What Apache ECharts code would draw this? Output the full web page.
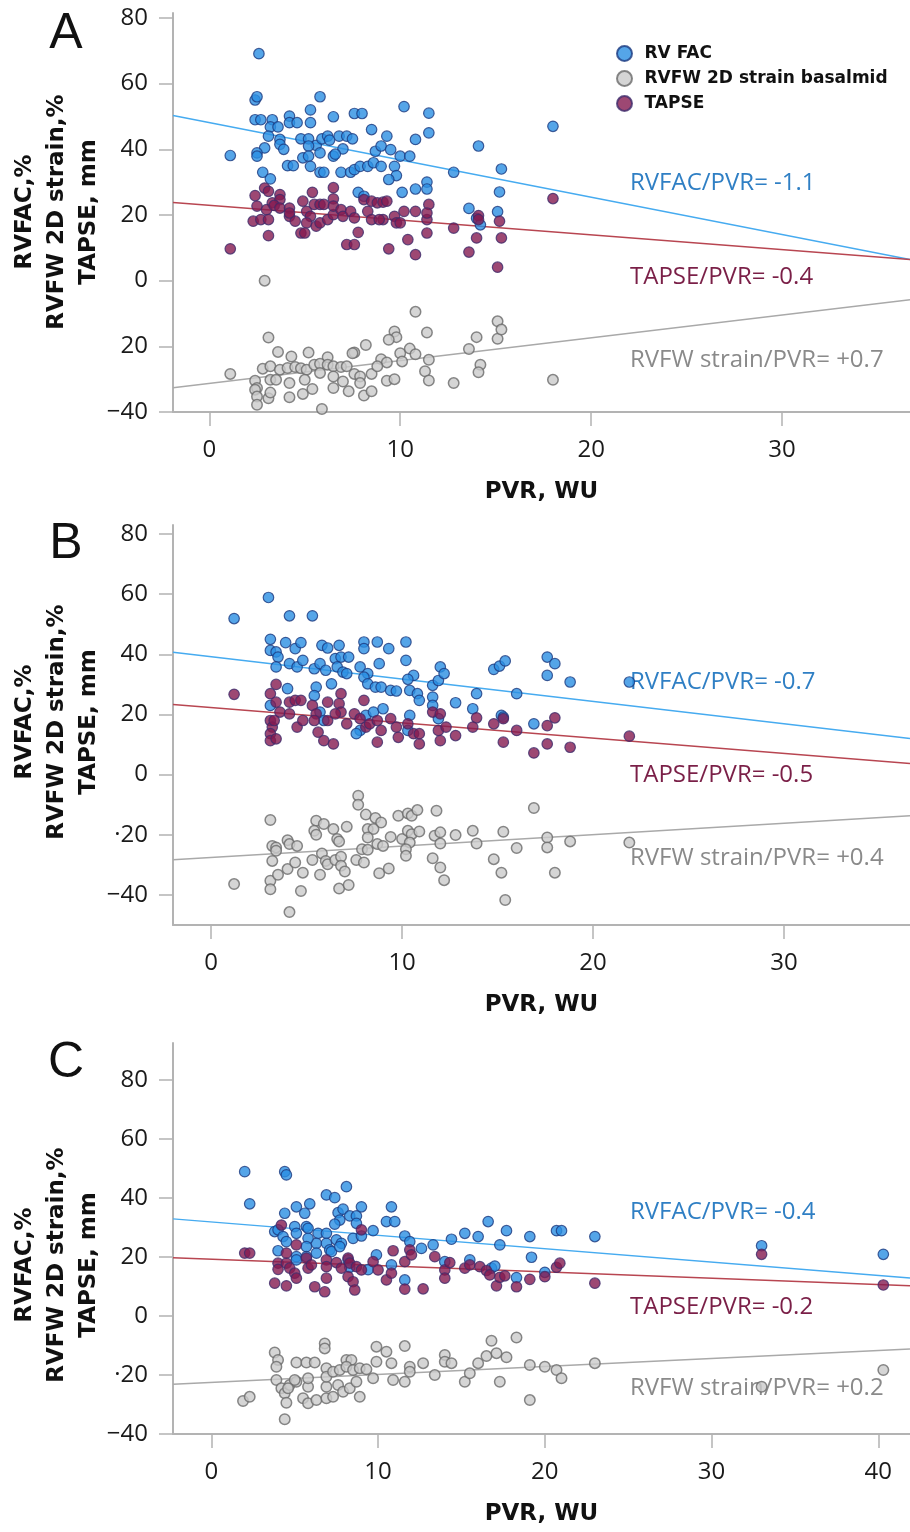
<!DOCTYPE html>
<html>
<head>
<meta charset="utf-8">
<title>RV function vs PVR</title>
<script src="https://cdn.jsdelivr.net/npm/echarts@6/dist/echarts.min.js"></script>
<style>
  html, body { margin: 0; padding: 0; background: #fff; }
  #chart { width: 910px; height: 1532px; }
</style>
</head>
<body>
<div id="chart"></div>
<script>
// ---- data: [PVR (WU), value] ----
const facA = [[2.6,69.1],[2.4,55],[2.5,56],[5.8,56],[2.4,49],[2.7,49],[3.3,49],[5.3,52],[5.3,48.1],[4.2,50.1],[4.2,48.1],[4.6,48.1],[6.5,49.9],[7.6,50.9],[8.0,50.9],[10.2,53],[11.5,51],[11.5,45],[10.8,43],[8.5,46],[9.3,44],[3.2,46.8],[3.6,46.8],[3.1,44],[3.7,43],[2.9,40.4],[2.5,38.9],[2.5,37.9],[1.1,38.1],[3.7,41.5],[3.9,40],[4.8,43.2],[5.2,43.2],[5.6,41.2],[5.2,41],[5.9,43.2],[6.2,44],[6.3,42.8],[6.8,44],[7.2,44],[7.5,43.2],[7.0,40.1],[6.5,37.9],[6.6,38.5],[5.8,38.9],[4.9,37.4],[5.2,37.9],[5.3,34.8],[4.1,35],[4.4,35],[5.8,33],[6.0,33],[2.8,33],[3.2,31],[6.9,33],[7.4,33],[7.6,33.8],[7.9,34.8],[8.3,34.8],[8.6,35.9],[9.0,34.8],[8.7,39.4],[9.0,41],[9.5,39.9],[10.0,37.9],[10.5,37.9],[9.7,34.8],[9.8,32],[9.4,30.8],[10.1,26.9],[10.8,27.9],[11.4,30],[11.4,27.9],[7.8,26.9],[8.1,25.7],[12.8,33],[18.0,47],[14.1,41],[15.3,34],[15.2,27],[13.6,22],[14.0,19],[14.2,17],[15.1,21]];
const tapseA = [[1.1,9.7],[2.4,25.9],[2.9,28.2],[3.1,27.2],[3.7,26.2],[3.3,23.7],[3.7,24.7],[2.5,22.7],[3.0,21.6],[3.4,22.9],[3.7,22.1],[2.3,18.1],[2.7,18.6],[3.1,18.6],[3.1,13.7],[4.2,22.1],[4.2,19.6],[4.5,18.1],[4.2,20.6],[4.9,24.2],[5.4,26.9],[5.1,21.1],[5.5,23.2],[5.8,23.2],[6.0,23.2],[5.3,19.6],[5.1,17.6],[5.6,16.6],[5.8,17.6],[6.2,18.6],[6.5,20.1],[6.5,28.3],[6.5,24.9],[6.5,22.7],[4.8,14.5],[5.0,14.5],[6.9,21.6],[7.0,19.6],[7.4,21.1],[7.6,19.1],[7.8,14.7],[7.2,11],[7.6,11],[8.1,24.7],[8.3,21.1],[8.5,24.2],[8.8,23.7],[9.1,23.9],[9.3,24.2],[9.1,18.6],[8.5,18.6],[8.9,18.6],[9.7,19.6],[9.8,17.6],[10.0,17.6],[10.2,21.1],[9.4,9.7],[10.4,12.5],[10.8,7.9],[10.8,21.1],[11.4,14.5],[11.4,18.6],[11.5,23.2],[11.4,20.6],[12.8,16],[18.0,25],[14.1,19.8],[14.1,18.6],[15.2,18.1],[14.0,13],[15.3,13],[13.6,8.7],[15.1,4.1]];
const strainA = [[2.9,0],[1.1,-28.4],[10.8,-9.5],[11.4,-15.8],[9.7,-15.5],[9.8,-17.2],[9.4,-18],[3.1,-17.3],[8.2,-19.6],[7.6,-21.9],[7.5,-22.1],[3.6,-21.7],[4.3,-23.1],[5.2,-21.9],[6.2,-23.3],[10.0,-22.1],[10.5,-20.7],[10.8,-22.4],[10.1,-24.6],[11.5,-24.1],[9.0,-23.9],[9.3,-24.9],[2.8,-26.8],[3.2,-26.1],[3.7,-27.1],[4.1,-26.6],[4.5,-26.3],[4.8,-26.7],[5.1,-27.1],[5.5,-25.6],[5.8,-25.3],[6.2,-25.6],[6.5,-26.1],[6.9,-26.3],[7.2,-26.1],[7.6,-28.4],[7.9,-29.2],[8.5,-28.4],[8.8,-26.1],[2.4,-30.5],[2.5,-32.7],[2.4,-33.2],[3.2,-30.2],[3.5,-30.2],[4.2,-31.2],[5.0,-30.2],[5.8,-28.1],[6.5,-29.2],[7.0,-30.7],[7.9,-31.2],[2.5,-35.3],[3.1,-35.8],[3.2,-34.1],[2.5,-37.8],[4.2,-35.5],[4.9,-34.5],[5.4,-33],[6.5,-32.7],[7.3,-33.7],[8.1,-35],[8.5,-33.7],[9.3,-30.5],[9.7,-30],[11.3,-27.6],[11.5,-30.4],[12.8,-31.2],[13.6,-20.8],[14.0,-17.2],[14.2,-25.6],[14.1,-27.9],[15.1,-12.4],[15.1,-17.7],[15.3,-14.9],[5.9,-39.1],[18.0,-30.2]];

const facB = [[1.2,51.9],[3.0,58.9],[4.1,52.8],[5.3,52.8],[3.1,45],[3.9,43.9],[4.4,41.9],[4.7,43.9],[3.1,41.3],[3.4,40.8],[3.5,39.1],[3.4,35.8],[4.1,36.9],[4.5,35.8],[4.8,38],[5.8,43],[6.1,42.1],[6.7,43],[8.0,44.1],[8.0,41.9],[8.7,44.1],[9.3,41.9],[10.2,44.1],[5.4,35.2],[5.7,36.9],[6.0,34.7],[6.5,38.6],[6.8,39.1],[7.2,39.1],[6.6,35.8],[6.9,34.1],[7.1,33.6],[7.8,35.8],[8.2,33.6],[8.8,36.9],[10.2,38],[4.0,28.6],[5.5,29.1],[5.4,26.3],[6.3,30.2],[8.0,32.4],[8.2,30.2],[8.6,29.1],[8.9,29.1],[9.4,28],[9.7,27.8],[10.4,28],[10.6,33],[10.3,31.7],[10.8,26.9],[10.9,24.7],[11.6,29.7],[11.9,31.3],[12.0,35.8],[12.2,33.6],[11.6,25.8],[11.6,23],[3.1,23],[5.7,20.8],[5.9,18],[8.1,19.7],[8.5,20.8],[9.0,21.9],[7.8,14.7],[10.3,14.7],[11.9,18.6],[10.4,19.7],[7.6,13.6],[12.8,23.9],[13.9,26.9],[13.7,21.9],[14.8,35],[15.1,36.1],[15.4,37.8],[16.0,26.9],[15.2,19.7],[15.3,19.1],[16.9,16.9],[17.6,39.1],[18.0,36.9],[17.6,33],[18.8,30.8],[21.9,30.8]];
const tapseB = [[1.2,26.7],[3.1,26.9],[3.4,30],[4.1,24.1],[4.4,24.7],[4.7,24.7],[3.6,20.8],[3.4,24.1],[4.1,20.2],[3.1,18],[3.2,15.8],[3.1,13.6],[3.1,11.3],[3.4,11.9],[3.3,18],[4.5,15.8],[4.8,18],[5.3,23],[5.5,20.2],[5.4,18],[6.1,24.1],[5.6,14.1],[5.9,11.3],[6.4,10.2],[6.1,18],[6.8,26.9],[6.7,23.6],[6.8,20.8],[7.1,16.9],[6.5,20.2],[7.5,20.2],[8.0,24.7],[7.8,18.6],[8.1,15.8],[8.3,16.9],[8.7,18],[8.9,14.7],[8.7,10.8],[9.4,18.6],[9.7,15.8],[10.3,16.9],[10.6,13.6],[10.9,10.2],[9.8,12.4],[10.9,13.6],[11.6,20.8],[12.0,20.2],[11.9,14.7],[12.0,11.3],[12.3,15.8],[12.8,13],[13.9,18.9],[13.7,15.8],[14.8,16.9],[15.3,18.6],[15.3,10.8],[16.0,14.7],[16.9,7.2],[17.6,16.3],[18.0,18.9],[17.6,10.2],[18.8,9.1],[21.9,12.8]];
const strainB = [[1.2,-36.4],[3.1,-15.1],[3.2,-23.7],[3.4,-24.2],[3.4,-25.3],[3.2,-28.7],[4.0,-21.8],[4.1,-23.1],[4.5,-23.7],[3.1,-35.3],[3.1,-38.1],[3.5,-33.3],[4.0,-31.4],[4.4,-29.2],[4.8,-32.6],[4.7,-38.7],[4.1,-45.7],[5.5,-15.3],[5.9,-16.4],[5.4,-18.7],[5.5,-20],[6.4,-18.1],[6.6,-21.4],[7.1,-17.3],[6.7,-22.2],[5.3,-28.4],[5.8,-26.2],[6.0,-28.7],[6.1,-29.8],[6.5,-28.4],[6.8,-27.3],[6.8,-30.3],[7.0,-32.2],[5.7,-33.3],[6.7,-37.9],[7.2,-36.7],[7.7,-7],[7.7,-10],[8.1,-13.3],[8.6,-14.4],[8.9,-15.9],[8.2,-18.1],[8.5,-18.1],[8.2,-20.9],[8.7,-23.1],[9.0,-23.7],[7.9,-24.8],[8.2,-25],[7.6,-28.4],[8.0,-29.2],[8.8,-32.8],[9.3,-31.2],[9.4,-20.7],[9.8,-13.7],[10.3,-12.9],[10.5,-13.7],[10.8,-11.8],[10.0,-21.4],[10.3,-18.7],[10.5,-19.8],[10.9,-18.9],[10.4,-22.6],[10.2,-24.8],[10.2,-27],[11.6,-27.8],[12.0,-30.9],[12.2,-35.1],[11.8,-12],[11.7,-20.3],[12.0,-19.2],[12.0,-22.9],[12.8,-20.1],[13.7,-18.7],[13.9,-22.9],[14.8,-28.1],[15.2,-32.6],[15.4,-41.7],[15.3,-19],[16.0,-24.4],[16.9,-11.1],[17.6,-20.9],[17.6,-24.2],[18.0,-32.6],[18.8,-22.2],[21.9,-22.6]];

const facC = [[2.0,48.9],[2.3,38],[4.4,48.9],[4.5,47.8],[8.1,43.8],[6.9,41],[7.4,40.1],[5.1,37],[5.9,38],[5.6,34.8],[4.4,34.8],[7.6,35],[7.9,36.2],[7.7,32.5],[7.4,31.1],[8.3,33.9],[8.7,33.9],[9.0,37],[8.7,31.4],[10.8,37],[10.5,32],[11.0,32],[3.8,28.6],[4.0,29.2],[4.3,26.9],[4.5,25.2],[5.0,30.3],[5.1,28],[5.7,30.3],[5.8,29.7],[6.4,28],[6.9,28],[6.3,24.6],[5.8,26.3],[5.7,23.5],[6.9,24.6],[7.1,22.4],[7.5,25.8],[7.8,24.6],[8.5,26.3],[9.0,27.1],[9.7,28.9],[4.0,22.1],[5.1,20.1],[5.1,19],[6.3,21.3],[5.7,20.1],[7.2,21.8],[7.7,23.5],[8.2,19],[8.3,16.5],[9.4,15.7],[9.9,20.7],[10.8,17.3],[11.6,27.1],[11.9,25.2],[12.6,22.9],[13.3,24.1],[14.4,26],[15.2,28],[16.0,26.9],[15.5,19],[14.0,18.4],[11.6,12.2],[16.6,32],[17.7,28.9],[17.3,24.1],[19.1,26.9],[19.2,19.9],[18.3,13],[20.0,14.8],[20.7,28.9],[21.0,28.9],[23.0,26.9],[33.0,23.8],[40.3,20.9],[16.8,16.2],[17.0,16.9]];
const tapseC = [[2.0,21.3],[2.3,21.3],[3.8,11.1],[4.5,10.2],[4.0,17.9],[4.0,15.8],[4.5,17.9],[4.7,16.2],[5.0,14.5],[5.1,12.8],[5.1,24.1],[4.2,30.8],[4.5,21.3],[5.7,19.6],[5.8,16.2],[6.0,17.3],[6.2,9.9],[6.9,19],[6.9,16.7],[6.9,12.8],[6.8,8.2],[7.5,18.1],[7.8,16.2],[8.2,19.6],[8.3,17.9],[8.2,13.3],[8.5,11.6],[8.6,8.8],[8.7,16.7],[9.0,29.2],[9.0,15.6],[9.7,18.4],[10.0,15.6],[10.5,12.2],[10.9,22.1],[10.8,14.5],[11.6,18.4],[11.6,9.1],[12.7,9.2],[11.9,22.4],[12.0,20.7],[13.4,20.1],[14.0,15.6],[14.0,12.8],[14.3,18.1],[15.2,16.2],[15.5,17.3],[16.1,16.7],[16.5,15.4],[16.7,13.9],[17.1,10.2],[17.3,13.1],[17.6,13.6],[18.3,9.9],[19.1,12.4],[20.0,13.3],[20.7,16.5],[20.9,17.9],[23.0,11.1],[33.0,20.9],[40.3,10.5]];
const strainC = [[1.9,-28.8],[2.3,-27.4],[3.8,-12.4],[4.0,-14.9],[3.9,-17.2],[3.9,-21.7],[4.2,-24.5],[4.4,-26.2],[4.5,-29.4],[4.4,-35],[4.7,-23.4],[5.1,-15.8],[5.1,-22.3],[5.7,-15.8],[6.2,-15.8],[5.8,-24],[5.5,-27.9],[5.8,-29.6],[6.3,-28.5],[6.9,-27.9],[7.3,-27.4],[6.9,-24],[7.6,-23.4],[7.9,-25.7],[8.3,-24.5],[8.7,-22.3],[8.9,-27.4],[5.0,-21.7],[4.6,-24.5],[5.8,-21.1],[6.9,-17.7],[6.9,-20.6],[7.3,-18.9],[7.7,-18.3],[8.1,-14.9],[8.4,-14.9],[8.1,-17.2],[8.5,-18.3],[8.9,-17.7],[9.3,-18.1],[9.7,-21.1],[6.8,-9.3],[6.8,-11],[9.9,-10.4],[10.5,-12.1],[9.9,-15.5],[10.8,-16],[10.9,-21.7],[11.6,-10.2],[11.6,-22.3],[11.9,-17.2],[11.9,-18.9],[12.7,-16],[13.4,-20],[14.0,-13.2],[14.0,-15.5],[14.4,-16],[15.2,-22.3],[15.5,-19.4],[16.0,-16],[16.5,-13.6],[16.8,-8.4],[17.1,-12.6],[17.7,-14],[17.3,-22.3],[19.1,-16.6],[20.0,-17.2],[20.7,-18.3],[21.0,-21.1],[18.3,-7.3],[19.1,-28.5],[23.0,-16],[33.0,-24],[40.3,-18.3]];

// fitted lines, endpoints at the plot edges
const fitFacA = [[-1.9,50.3],[36.7,6.4]];
const fitTapseA = [[-1.9,23.8],[36.7,6.4]];
const fitStrainA = [[-1.9,-32.6],[36.7,-5.8]];
const fitFacB = [[-2.0,40.7],[36.6,12.0]];
const fitTapseB = [[-2.0,23.3],[36.6,3.7]];
const fitStrainB = [[-2.0,-28.3],[36.6,-13.7]];
const fitFacC = [[-2.3,32.9],[41.9,12.9]];
const fitTapseC = [[-2.3,19.7],[41.9,10.2]];
const fitStrainC = [[-2.3,-23.1],[41.9,-11.2]];

const slopeTexts = [
  ['RVFAC/PVR= -1.1', 'TAPSE/PVR= -0.4', 'RVFW strain/PVR= +0.7'],
  ['RVFAC/PVR= -0.7', 'TAPSE/PVR= -0.5', 'RVFW strain/PVR= +0.4'],
  ['RVFAC/PVR= -0.4', 'TAPSE/PVR= -0.2', 'RVFW strain/PVR= +0.2']
];

const yTicks = [-40, -20, 0, 20, 40, 60, 80];
const yLabelsA = ['\u221240', '20', '0', '20', '40', '60', '80'];
const yLabelsBC = ['\u221240', '\u00b720', '0', '20', '40', '60', '80'];
const xTicksAB = [0, 10, 20, 30];
const xTicksC = [0, 10, 20, 30, 40];

const seriesNames = ['RV FAC', 'RVFW 2D strain basalmid', 'TAPSE'];

// ---- layout ----
const panels = [
  { letter: 'A', top: 13, height: 399, x: [-1.9, 36.7], y: [-40, 81.5], xTicks: xTicksAB, yLabels: yLabelsA,
    fac: facA, strain: strainA, tapse: tapseA, fits: [fitFacA, fitStrainA, fitTapseA],
    letterY: 34, titleY: 212, notes: [183, 277, 360] },
  { letter: 'B', top: 525, height: 400, x: [-2.0, 36.6], y: [-50, 83], xTicks: xTicksAB, yLabels: yLabelsBC,
    fac: facB, strain: strainB, tapse: tapseB, fits: [fitFacB, fitStrainB, fitTapseB],
    letterY: 544, titleY: 722, notes: [682, 775, 858] },
  { letter: 'C', top: 1043, height: 391, x: [-2.3, 41.9], y: [-40, 92.5], xTicks: xTicksC, yLabels: yLabelsBC,
    fac: facC, strain: strainC, tapse: tapseC, fits: [fitFacC, fitStrainC, fitTapseC],
    letterY: 1063, titleY: 1265, notes: [1212, 1307, 1388] }
];

const axisGrey = '#b3b3b3';
const pointStyles = [
  { color: '#2a8ee2', borderColor: '#1b3a80', borderWidth: 1.2 },
  { color: '#cacaca', borderColor: '#6a6a6a', borderWidth: 1.5 },
  { color: '#841a50', borderColor: '#3f2c6c', borderWidth: 1.2 }
];
const lineColors = ['#46abf0', '#a9a9a9', '#b84651'];
const noteColors = ['#2f7fc4', '#8a8a8a', '#7a1f47'];

const grid = [], xAxis = [], yAxis = [], series = [], graphic = [];

panels.forEach((p, i) => {
  grid.push({ left: 173, right: 0, top: p.top, height: p.height });

  xAxis.push({
    type: 'value', gridIndex: i, min: p.x[0], max: p.x[1],
    axisLine: { show: true, onZero: false, lineStyle: { color: axisGrey, width: 2 } },
    axisTick: { show: true, length: 14, customValues: p.xTicks, lineStyle: { color: axisGrey, width: 1.5 } },
    axisLabel: { customValues: p.xTicks, margin: 26, fontSize: 24, color: '#1a1a1a', fontFamily: 'Open Sans' },
    splitLine: { show: false },
    name: 'PVR, WU', nameLocation: 'middle', nameGap: 69,
    nameTextStyle: { fontFamily: 'DejaVu Sans', fontWeight: 'bold', fontSize: 23, color: '#111' }
  });

  yAxis.push({
    type: 'value', gridIndex: i, min: p.y[0], max: p.y[1],
    axisLine: { show: true, onZero: false, lineStyle: { color: axisGrey, width: 2 } },
    axisTick: { show: true, length: 14, customValues: yTicks, lineStyle: { color: axisGrey, width: 1.5 } },
    axisLabel: {
      customValues: yTicks, margin: 25, fontSize: 24, color: '#1a1a1a', fontFamily: 'Open Sans',
      formatter: v => p.yLabels[yTicks.indexOf(v)]
    },
    splitLine: { show: false }
  });

  // regression lines under the points
  p.fits.forEach((f, k) => {
    series.push({
      type: 'line', xAxisIndex: i, yAxisIndex: i, data: f, showSymbol: false, silent: true,
      lineStyle: { color: lineColors[k], width: 1.5 }, z: 1
    });
  });

  [p.fac, p.strain, p.tapse].forEach((d, k) => {
    series.push({
      name: seriesNames[k], type: 'scatter', xAxisIndex: i, yAxisIndex: i,
      data: d, symbolSize: 10.5, itemStyle: pointStyles[k], z: 2 + k
    });
  });

  graphic.push({
    type: 'text', x: 66, y: p.letterY,
    style: { text: p.letter, fontSize: 50, fontFamily: 'Liberation Sans', fill: '#111', textAlign: 'center', textVerticalAlign: 'middle' }
  });
  graphic.push({
    type: 'text', x: 57, y: p.titleY, rotation: Math.PI / 2,
    style: {
      text: 'RVFAC,%\nRVFW 2D strain,%\nTAPSE, mm', fontSize: 23, fontWeight: 'bold', fontFamily: 'DejaVu Sans',
      lineHeight: 32, fill: '#111', textAlign: 'center', textVerticalAlign: 'middle'
    }
  });
  // slope notes: RVFAC, TAPSE, RVFW strain (top to bottom)
  const noteOrder = [0, 2, 1];
  p.notes.forEach((ny, k) => {
    graphic.push({
      type: 'text', x: 630, y: ny,
      style: { text: slopeTexts[i][k], fontSize: 24, fontFamily: 'Open Sans', fill: noteColors[noteOrder[k]], textVerticalAlign: 'middle' }
    });
  });
});

const chart = echarts.init(document.getElementById('chart'));
chart.setOption({
  backgroundColor: '#fff',
  animation: false,
  grid, xAxis, yAxis, series, graphic,
  legend: {
    data: seriesNames, orient: 'vertical', left: 611, top: 40,
    itemWidth: 30, itemHeight: 15, itemGap: 8, icon: 'circle',
    textStyle: { fontFamily: 'DejaVu Sans', fontWeight: 'bold', fontSize: 17, color: '#111', lineHeight: 15 }
  }
});
</script>
</body>
</html>
